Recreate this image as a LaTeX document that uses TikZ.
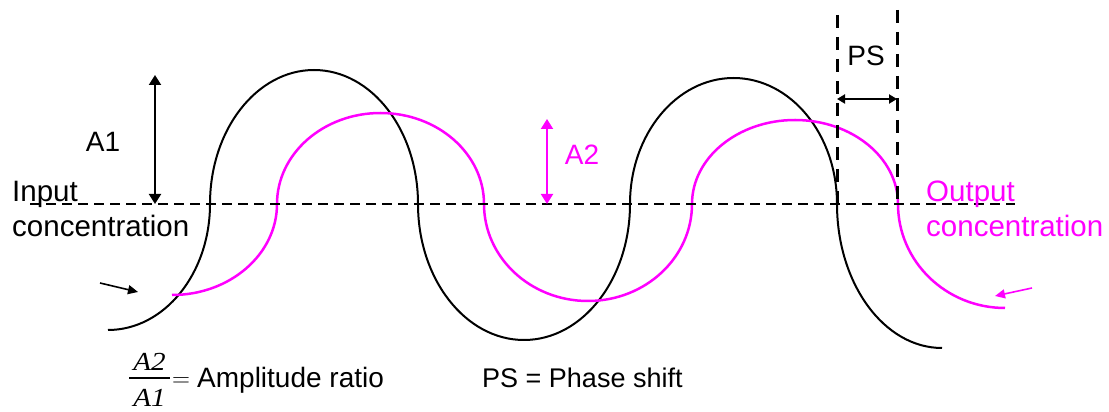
\documentclass[tikz,border=0pt]{standalone}
\usepackage{graphicx}
\usepackage{fontspec}
\setmainfont{Liberation Sans}
\newfontfamily\tms{Liberation Serif}
\usetikzlibrary{arrows.meta}
\definecolor{mag}{RGB}{255,0,255}
\begin{document}
\begin{tikzpicture}[x=1pt,y=1pt,
  lbl/.style={font=\fontsize{28}{35}\selectfont, inner sep=0pt},
  biglbl/.style={font=\fontsize{29.5}{35}\selectfont, inner sep=0pt},
  fracpart/.style={font=\fontsize{26}{30}\selectfont\tms\itshape, inner sep=0pt, anchor=base},
  wave/.style={line width=2pt},
  owave/.style={mag, line width=2.5pt},
  baseline dash/.style={dash pattern=on 10pt off 6pt, line width=2pt},
  psline/.style={dash pattern=on 13pt off 9pt, line width=3pt},
  bigdbl/.style={{Triangle[length=10pt,width=12pt]}-{Triangle[length=10pt,width=12pt]}, line width=2pt},
  smalldbl/.style={{Triangle[length=8pt,width=9pt]}-{Triangle[length=8pt,width=9pt]}, line width=2pt},
  pointer/.style={-{Triangle[length=10pt,width=9pt]}, line width=1.6pt}]
\useasboundingbox (0,0) rectangle (1109,412);
% input (black) wave
\draw[wave] (108,82)
  arc[start angle=270,end angle=360,x radius=102,y radius=126]
  arc[start angle=180,end angle=0,x radius=104,y radius=134]
  arc[start angle=180,end angle=360,x radius=106,y radius=136]
  arc[start angle=180,end angle=0,x radius=103.5,y radius=126]
  arc[start angle=180,end angle=270,x radius=105,y radius=144];
% output (magenta) wave
\draw[owave] (172,117)
  arc[start angle=270,end angle=360,x radius=105,y radius=91]
  arc[start angle=180,end angle=0,x radius=103.5,y radius=91]
  arc[start angle=180,end angle=360,x radius=104,y radius=97]
  arc[start angle=180,end angle=0,x radius=103,y radius=84]
  arc[start angle=180,end angle=270,x radius=107,y radius=104];
% coordinates
\coordinate (b0) at (30,208);
\coordinate (b1) at (1015,208);
\coordinate (a1t) at (155,337);
\coordinate (a1b) at (155,208);
\coordinate (a2t) at (547,293);
\coordinate (a2b) at (547,208);
\coordinate (ps1t) at (837,397);
\coordinate (ps1b) at (837,208);
\coordinate (ps2t) at (897,402);
\coordinate (ps2b) at (897,208);
\coordinate (psl) at (837,313);
\coordinate (psr) at (897,313);
\coordinate (ia0) at (100,129);
\coordinate (ia1) at (138,120);
\coordinate (oa0) at (1032,124);
\coordinate (oa1) at (995,116);
\coordinate (bar0) at (129,34);
\coordinate (bar1) at (170,34);
% dashed lines
\draw[baseline dash] (b0) -- (b1);
\draw[psline] (ps1t) -- (ps1b);
\draw[psline] (ps2t) -- (ps2b);
% arrows
\draw[bigdbl] (a1t) -- (a1b);
\draw[bigdbl, mag] (a2t) -- (a2b);
\draw[smalldbl] (psl) -- (psr);
\draw[pointer] (ia0) -- (ia1);
\draw[pointer, mag] (oa0) -- (oa1);
% labels
\node[biglbl, anchor=base west] (in1) at (12,210) {Input};
\node[biglbl, anchor=base west] (in2) at (12,175) {concentration};
\node[lbl] (a1lbl) at (103,270) {A1};
\node[lbl, text=mag] (a2lbl) at (582,257) {A2};
\node[lbl] (pslbl) at (866,356) {PS};
\node[biglbl, text=mag, anchor=base west] (out1) at (926,210) {Output};
\node[biglbl, text=mag, anchor=base west] (out2) at (926,175) {concentration};
% fraction A2/A1
\node[fracpart] (fnum) at (149.5,41) {\scalebox{1.12}[1]{A2}};
\draw[line width=1.1pt] (bar0) -- (bar1);
\node[fracpart] (fden) at (149.5,5) {\scalebox{1.12}[1]{A1}};
\node[inner sep=0pt, anchor=base west, font=\fontsize{27}{30}\selectfont] (eqs) at (172,25) {$=$};
\node[lbl, anchor=base west] (ar) at (197,24) {Amplitude ratio};
\node[lbl, anchor=base west, font=\fontsize{27}{35}\selectfont] (psdef) at (482,24) {PS = Phase shift};
\end{tikzpicture}
\end{document}
